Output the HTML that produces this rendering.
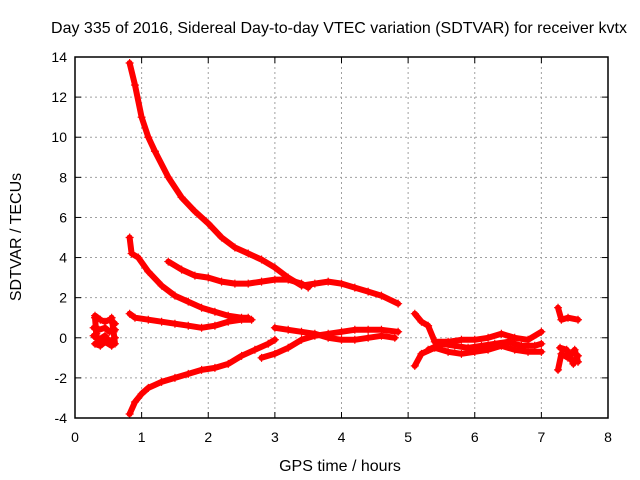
<!DOCTYPE html>
<html><head><meta charset="utf-8"><style>
body{margin:0;background:#fff}
svg{display:block;font-family:"Liberation Sans",sans-serif}
</style></head><body>
<svg id="chart" width="640" height="480" viewBox="0 0 640 480">
<rect width="640" height="480" fill="#fff"/>
<text x="339" y="33" font-size="16" text-anchor="middle">Day 335 of 2016, Sidereal Day-to-day VTEC variation (SDTVAR) for receiver kvtx</text>
<g id="grid"></g>
<g id="marks"></g>
<rect x="75" y="57" width="533" height="361" fill="none" stroke="#000" stroke-width="1.5"/>
<g id="ticks"></g>
<text x="340" y="471" font-size="16" text-anchor="middle">GPS time / hours</text>
<text transform="translate(21,237) rotate(-90)" font-size="16" text-anchor="middle">SDTVAR / TECUs</text>
</svg>
<script>
const xTicks=[0,1,2,3,4,5,6,7,8];
const yTicks=[-4,-2,0,2,4,6,8,10,12,14];
const trackA=[[0.82,13.7],[0.9,12.6],[1.0,11.0],[1.1,10.0],[1.2,9.3],[1.4,8.0],[1.6,7.0],[1.8,6.3],[2.0,5.7],[2.2,5.0],[2.4,4.5],[2.6,4.2],[2.8,3.9],[3.0,3.5],[3.2,3.0],[3.4,2.6],[3.6,2.7],[3.8,2.8],[4.0,2.7],[4.2,2.5],[4.4,2.3],[4.6,2.1],[4.85,1.7]];
const trackB=[[0.82,5.0],[0.85,4.2],[0.95,4.0],[1.1,3.3],[1.3,2.6],[1.5,2.1],[1.7,1.8],[1.9,1.5],[2.1,1.3],[2.3,1.1],[2.5,1.0],[2.6,1.0]];
const trackC=[[1.4,3.8],[1.6,3.4],[1.8,3.1],[2.0,3.0],[2.2,2.8],[2.4,2.7],[2.6,2.7],[2.8,2.8],[3.0,2.9],[3.2,2.9],[3.4,2.7],[3.5,2.5]];
const trackD=[[0.82,1.2],[0.9,1.0],[1.1,0.9],[1.3,0.8],[1.5,0.7],[1.7,0.6],[1.9,0.5],[2.1,0.6],[2.3,0.8],[2.5,0.9],[2.65,0.9]];
const trackE=[[0.82,-3.8],[0.9,-3.2],[1.0,-2.8],[1.1,-2.5],[1.3,-2.2],[1.5,-2.0],[1.7,-1.8],[1.9,-1.6],[2.1,-1.5],[2.3,-1.3],[2.5,-0.9],[2.7,-0.6],[2.9,-0.3],[3.0,-0.1]];
const trackF=[[2.8,-1.0],[3.0,-0.8],[3.2,-0.5],[3.4,-0.1],[3.6,0.1],[3.8,0.2],[4.0,0.3],[4.2,0.4],[4.4,0.4],[4.6,0.4],[4.85,0.3]];
const trackG=[[3.0,0.5],[3.2,0.4],[3.4,0.3],[3.6,0.2],[3.8,0.0],[4.0,-0.1],[4.2,-0.1],[4.4,0.0],[4.6,0.1],[4.8,0.0]];
const trackEarly1=[[0.3,1.1],[0.38,0.9],[0.45,0.8],[0.52,0.9],[0.6,0.7]];
const trackEarly2=[[0.28,0.5],[0.36,0.4],[0.45,0.5],[0.52,0.3],[0.6,0.4]];
const trackEarly3=[[0.28,0.1],[0.36,-0.1],[0.45,0.1],[0.52,-0.2],[0.6,0.0]];
const trackEarly4=[[0.3,-0.3],[0.38,-0.4],[0.45,-0.2],[0.55,-0.4]];
const trackEarly5=[[0.3,1.0],[0.32,0.2],[0.35,-0.3]];
const trackEarly6=[[0.55,1.0],[0.58,0.3],[0.6,-0.3]];
const trackH=[[5.1,-1.4],[5.2,-0.8],[5.4,-0.5],[5.6,-0.7],[5.8,-0.8],[6.0,-0.7],[6.2,-0.6],[6.4,-0.4],[6.6,-0.6],[6.8,-0.7],[7.0,-0.7]];
const trackH2=[[5.3,-0.6],[5.5,-0.3],[5.7,-0.4],[5.9,-0.5],[6.1,-0.4],[6.3,-0.3],[6.5,-0.2],[6.7,-0.4],[6.9,-0.4],[7.0,-0.3]];
const trackI=[[5.1,1.2],[5.2,0.8],[5.3,0.6],[5.4,-0.2],[5.6,-0.2],[5.8,-0.1],[6.0,-0.1],[6.2,0.0],[6.4,0.2],[6.6,0.0],[6.8,-0.1],[7.0,0.3]];
const trackJ=[[7.25,1.5],[7.3,0.9],[7.4,1.0],[7.55,0.9]];
const trackK=[[7.25,-1.6],[7.3,-0.8],[7.4,-1.0],[7.5,-0.6],[7.55,-1.2]];
const trackK2=[[7.28,-0.5],[7.38,-0.6],[7.48,-1.3],[7.55,-0.9]];
const tracks=[trackA,trackB,trackC,trackD,trackE,trackF,trackG,trackEarly1,trackEarly2,trackEarly3,trackEarly4,trackEarly5,trackEarly6,trackH,trackH2,trackI,trackJ,trackK,trackK2];

const NS="http://www.w3.org/2000/svg";
const X0=75,X1=608,Y0=418,Y1=57,xmin=0,xmax=8,ymin=-4,ymax=14;
const sx=v=>X0+(v-xmin)/(xmax-xmin)*(X1-X0);
const sy=v=>Y0-(v-ymin)/(ymax-ymin)*(Y0-Y1);
function mk(tag,attrs,parent){const e=document.createElementNS(NS,tag);for(const k in attrs)e.setAttribute(k,attrs[k]);parent.appendChild(e);return e;}
const grid=document.getElementById('grid'),ticks=document.getElementById('ticks'),marks=document.getElementById('marks');
xTicks.forEach(t=>{
  const x=sx(t);
  if(t>xmin&&t<xmax){const g=mk('line',{x1:x,x2:x,y1:Y1,y2:Y0,stroke:'#a0a0a0','stroke-dasharray':'2,3'},grid);
  
  }
  mk('line',{x1:x,x2:x,y1:Y0,y2:Y0-6,stroke:'#000'},ticks);
  mk('line',{x1:x,x2:x,y1:Y1,y2:Y1+6,stroke:'#000'},ticks);
  const l=mk('text',{x:x,y:Y0+24,'font-size':14,'text-anchor':'middle'},ticks);l.textContent=t;
  
  
});
yTicks.forEach(t=>{
  const y=sy(t);
  if(t>ymin&&t<ymax){const g=mk('line',{x1:X0,x2:X1,y1:y,y2:y,stroke:'#a0a0a0','stroke-dasharray':'2,3'},grid);
  
  }
  mk('line',{x1:X0,x2:X0+6,y1:y,y2:y,stroke:'#000'},ticks);
  mk('line',{x1:X1,x2:X1-6,y1:y,y2:y,stroke:'#000'},ticks);
  const l=mk('text',{x:X0-8,y:y+5,'font-size':14,'text-anchor':'end'},ticks);l.textContent=t;
  
  
});
tracks.forEach((tr,i)=>{
  const d=tr.map((p,j)=>(j?'L':'M')+sx(p[0]).toFixed(1)+' '+sy(p[1]).toFixed(1)).join(' ');
  const p=mk('path',{d:d,fill:'none',stroke:'#ff0000','stroke-width':6,'stroke-linejoin':'round','stroke-linecap':'round'},marks);
  
  
  tr.forEach(pt=>{
    const x=sx(pt[0]),y=sy(pt[1]);
    const m=mk('path',{d:`M${x-4} ${y}H${x+4}M${x} ${y-4}V${y+4}`,stroke:'#ff0000','stroke-width':1.2},marks);
    
    
  });
});
</script>
</body></html>
